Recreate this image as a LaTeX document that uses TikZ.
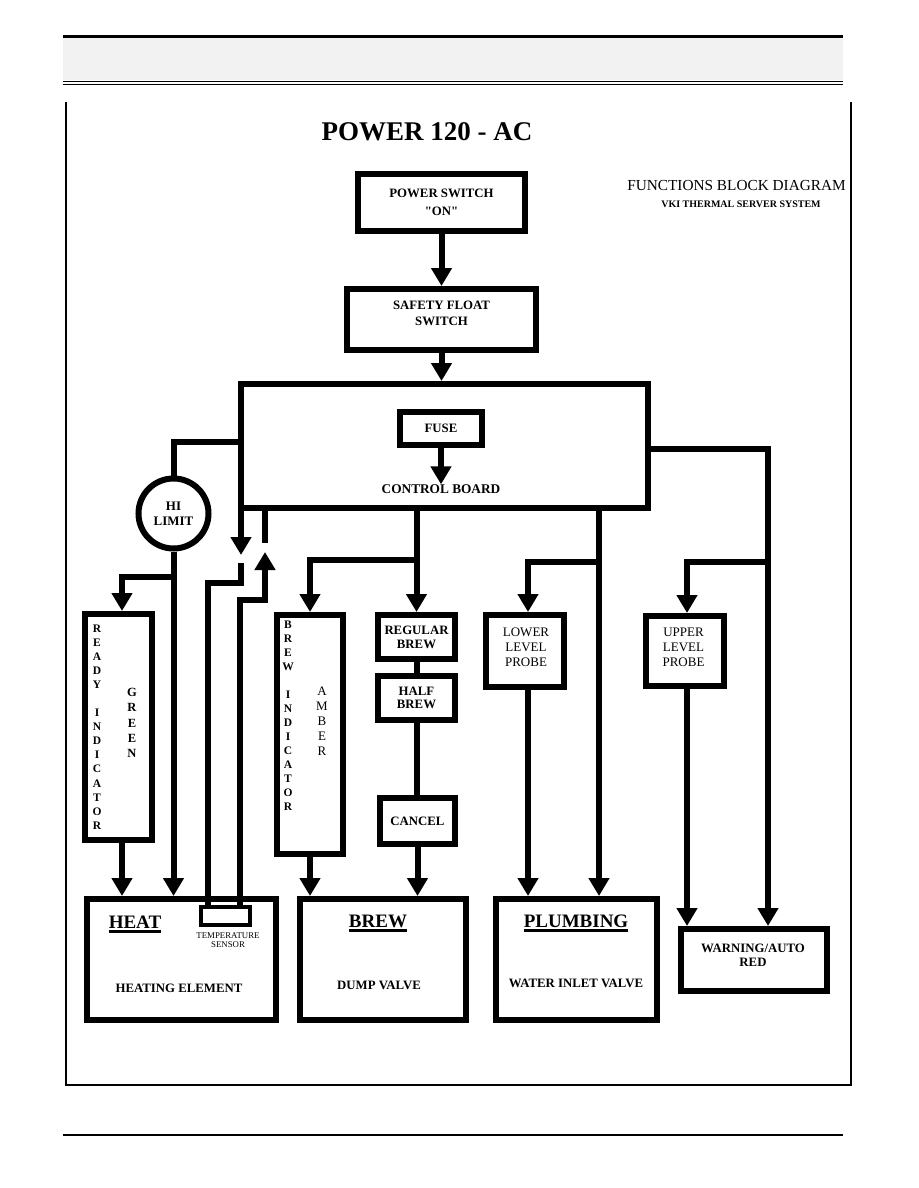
\documentclass[tikz,border=0pt]{standalone}
\usepackage{fontspec}
\setmainfont{Liberation Serif}
\newfontfamily\plainserif{Liberation Serif}[Ligatures=TeXOff]
\usetikzlibrary{arrows.meta,calc}
\definecolor{hdrgray}{HTML}{F2F2F2}
\begin{document}
\begin{tikzpicture}[x=1pt,y=-1pt,
  blk/.style={draw, line width=6, inner sep=0, align=center, font=\fontsize{12.8}{15}\selectfont\bfseries},
  wire/.style={line width=6},
  arr/.style={line width=6, -{Triangle[width=20pt,length=18pt]}},
  lbl/.style={inner sep=0, align=center, font=\fontsize{12.8}{15}\selectfont\bfseries},
  rlbl/.style={inner sep=0, align=center, font=\fontsize{13}{15}\selectfont},
  head/.style={inner sep=0, anchor=base, font=\fontsize{19}{20}\selectfont\bfseries},
  uline/.style={line width=2.2},
  thin/.style={line width=1.2},
]
\useasboundingbox (0,0) rectangle (918,1188);
\fill[white] (0,0) rectangle (918,1188);

% header and frame
\fill[hdrgray] (63,38) rectangle (843,80);
\draw[line width=3] (63,37) -- (843,37);
\draw[line width=1.3] (63,81.5) -- (843,81.5);
\draw[line width=1.3] (63,84.5) -- (843,84.5);
\draw[thin] (66,102) -- (66,1085) -- (851,1085) -- (851,102);
\draw[thin] (63,1135) -- (843,1135);

% titles
\node[inner sep=0, font=\fontsize{27}{30}\selectfont\bfseries] (title) at (427,132) {POWER 120 - AC};
\node[inner sep=0, font=\fontsize{15.3}{18}\selectfont] (fbd) at (736.5,186) {FUNCTIONS BLOCK DIAGRAM};
\node[inner sep=0, font=\fontsize{10}{12}\selectfont\bfseries] (vki) at (741,204) {VKI THERMAL SERVER SYSTEM};

% boxes
\node[blk, minimum width=167, minimum height=57, font=\fontsize{12.8}{18}\selectfont\bfseries] (pwr) at (441.5,202.5) {POWER SWITCH\\{\plainserif\bfseries "ON"}};
\node[blk, minimum width=189, minimum height=61] (sfs) at (441.5,319.5) {};
\node[lbl, font=\fontsize{12.8}{16}\selectfont\bfseries] (sfsl) at (441.5,313) {SAFETY FLOAT\\SWITCH};
\node[blk, minimum width=407, minimum height=124] (board) at (444.5,446) {};
\node[blk, minimum width=82, minimum height=33] (fuse) at (441,428.5) {FUSE};
\node[lbl, font=\fontsize{13.3}{15}\selectfont\bfseries] (cbl) at (441,489) {CONTROL BOARD};
\node[draw, circle, line width=6, minimum size=70, inner sep=0, align=center, font=\fontsize{13}{15}\selectfont\bfseries] (hil) at (173.5,513.5) {HI\\LIMIT};

\node[blk, minimum width=67, minimum height=226] (ready) at (118.5,727) {};
\node[inner sep=0, anchor=north, align=center, font=\fontsize{11.5}{14.07}\selectfont\bfseries] (readyl) at (97,624.5) {R\\E\\A\\D\\Y\\[14.07pt]I\\N\\D\\I\\C\\A\\T\\O\\R};
\node[inner sep=0, anchor=north, align=center, font=\fontsize{12.5}{15.3}\selectfont\bfseries] (greenl) at (132,688) {G\\R\\E\\E\\N};

\node[blk, minimum width=66, minimum height=239] (brewind) at (310,734.5) {};
\node[inner sep=0, anchor=north, align=center, font=\fontsize{11.5}{14}\selectfont\bfseries] (brewindl) at (288,620.5) {B\\R\\E\\W\\[14pt]I\\N\\D\\I\\C\\A\\T\\O\\R};
\node[inner sep=0, anchor=north, align=center, font=\fontsize{13}{15}\selectfont] (amberl) at (322,687) {A\\M\\B\\E\\R};

\node[blk, minimum width=77, minimum height=44, font=\fontsize{12.8}{14}\selectfont\bfseries] (reg) at (416.5,637) {REGULAR\\BREW};
\node[blk, minimum width=77, minimum height=44, font=\fontsize{12.8}{13.5}\selectfont\bfseries] (half) at (416.5,698) {HALF\\BREW};
\node[blk, minimum width=75, minimum height=46] (cancel) at (417.5,821) {CANCEL};
\node[blk, minimum width=78, minimum height=72] (lower) at (525,651) {};
\node[rlbl] (lowerl) at (526,647) {LOWER\\LEVEL\\PROBE};
\node[blk, minimum width=78, minimum height=70] (upper) at (685,651) {};
\node[rlbl] (upperl) at (683.5,647.5) {UPPER\\LEVEL\\PROBE};

\node[blk, minimum width=189, minimum height=121] (heat) at (181.5,959.5) {};
\node[head] (hd1) at (135,928) {HEAT};
\draw[uline] ([yshift=-3.5]hd1.base west) -- ([yshift=-3.5]hd1.base east);
\node[draw, line width=4, minimum width=49, minimum height=18, inner sep=0] (sens) at (225.5,916) {};
\node[inner sep=0, align=center, font=\fontsize{8.8}{9}\selectfont] (sensl) at (228,940.5) {TEMPERATURE\\SENSOR};
\node[lbl] (heatl) at (179,988) {HEATING ELEMENT};

\node[blk, minimum width=166, minimum height=121] (brew) at (383,959.5) {};
\node[head] (hd2) at (378,927) {BREW};
\draw[uline] ([yshift=-3.5]hd2.base west) -- ([yshift=-3.5]hd2.base east);
\node[lbl] (brewl) at (379,985) {DUMP VALVE};

\node[blk, minimum width=161, minimum height=121] (plumb) at (576.5,959.5) {};
\node[head] (hd3) at (576,927) {PLUMBING};
\draw[uline] ([yshift=-3.5]hd3.base west) -- ([yshift=-3.5]hd3.base east);
\node[lbl] (plumbl) at (576,983) {WATER INLET VALVE};

\node[blk, minimum width=146, minimum height=62] (warn) at (754,960) {};
\node[lbl, font=\fontsize{12.8}{13.5}\selectfont\bfseries] (warnl) at (753,955.5) {WARNING/AUTO\\RED};

% top chain
\draw[arr] (pwr.south) -- (pwr.south |- sfs.north);
\draw[arr] (sfs.south) -- (sfs.south |- board.north);
\draw[arr] (fuse.south) -- (cbl.north);

% hi limit
\coordinate (yA) at (0,442);
\draw[wire] (board.west |- yA) -| (hil.north);
\draw[arr] (hil.south) -- (hil.south |- heat.north);
\coordinate (j1) at (173.5,577);
\coordinate (rdN) at ([xshift=3.5]ready.north);
\draw[arr] (j1) -| (rdN);
\coordinate (rdS) at ([xshift=3.5]ready.south);
\draw[arr] (rdS) -- (rdS |- heat.north);

% temperature switch
\coordinate (s1a) at ([xshift=3]board.south west);
\coordinate (s1b) at (241,555);
\draw[arr] (s1a) -- (s1b);
\coordinate (s1c) at (241,563);
\coordinate (s1d) at (208,583);
\draw[wire] (s1c) |- (s1d) -- (s1d |- sens.north);
\coordinate (s2x) at (265,543);
\draw[wire] (board.south -| s2x) -- (s2x);
\coordinate (s2t) at (265,552);
\coordinate (s2c) at (240,600);
\draw[arr] (s2c |- sens.north) -- (s2c) -| (s2t);

% brew
\coordinate (y560) at (0,560);
\draw[arr] (board.south -| reg.north) -- (reg.north);
\draw[arr] (reg.north |- y560) -| (brewind.north);
\draw[wire] (reg.south) -- (half.north);
\draw[wire] (half.south) -- (half.south |- cancel.north);
\draw[arr] (cancel.south) -- (cancel.south |- brew.north);
\draw[arr] (brewind.south) -- (brewind.south |- brew.north);

% plumbing
\coordinate (c599) at (599,562);
\draw[arr] (board.south -| c599) -- (c599 |- plumb.north);
\coordinate (lwN) at ([xshift=3]lower.north);
\draw[arr] (c599) -| (lwN);
\coordinate (lwS) at ([xshift=3]lower.south);
\draw[arr] (lwS) -- (lwS |- plumb.north);

% warning
\coordinate (c768) at (768,449);
\draw[arr] (board.east |- c768) -- (c768) -- (c768 |- warn.north);
\coordinate (c768b) at (768,562);
\coordinate (upN) at ([xshift=2]upper.north);
\draw[arr] (c768b) -| (upN);
\coordinate (upS) at ([xshift=2]upper.south);
\draw[arr] (upS) -- (upS |- warn.north);
\end{tikzpicture}
\end{document}
